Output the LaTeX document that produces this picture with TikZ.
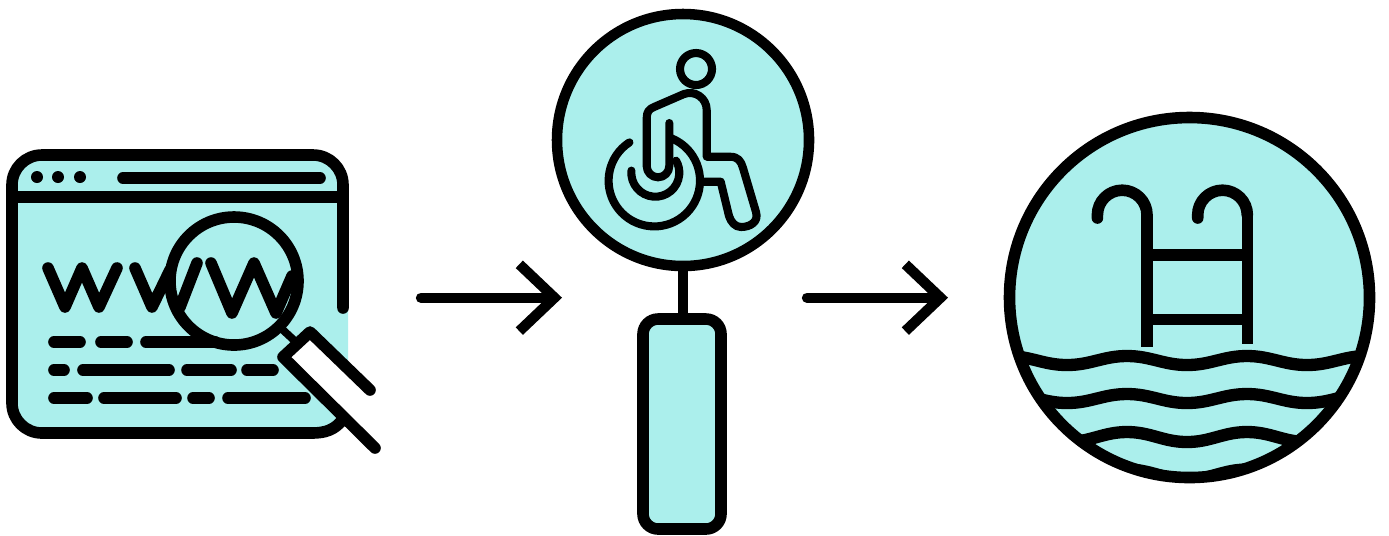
\documentclass[tikz,border=0pt]{standalone}
\usepackage{tikz}
\usetikzlibrary{arrows.meta}
\definecolor{pooltint}{HTML}{ABEFEC}
\tikzset{
  ink/.style={line width=3.3pt,line cap=round,line join=round},
  inkflat/.style={line width=3.3pt},
  chair/.style={line width=2.3pt,line cap=round,line join=round},
  flowarrow/.style={line width=2.95pt,line cap=round,-{Straight Barb[length=10pt,width=19pt,line cap=butt,line join=miter]}}
}
\begin{document}
\begin{tikzpicture}[x=0.01cm,y=-0.01cm]
  \useasboundingbox (0,0) rectangle (1389,535);
  % browser window
  \fill[pooltint,rounded corners=8.5pt] (12,155) rectangle (348,433);
  \fill[white] (310,332)--(283,357)--(375,448)--(400,448)--(400,420)--(370,390)--cycle;
  \draw[ink,rounded corners=8.5pt] (343,308)--(343,155)--(12,155)--(12,433)--(312,433);
  \draw[ink] (312,433) .. controls (325,433) and (335,430) .. (343,419);
  \draw[inkflat] (12,197)--(343,197);
  \foreach \dotx in {37,58,80} \fill (\dotx,177) circle[radius=6];
  \draw[ink] (123,178)--(320,178);
  % www
  \draw[ink] (48,268)--(65,307)--(82,268)--(99,307)--(117,268);
  \draw[ink] (135,268)--(152,307)--(170,270);
  \draw[ink] (180,307)--(197,263);
  \draw[ink] (211,263)--(232,313)--(254,263)--(276,313)--(292,276);
  % text rows
  \draw[ink] (54,342)--(80,342) (101,342)--(127,342) (146,342)--(215,342);
  \draw[ink] (54,370)--(64,370) (83,370)--(169,370) (187,370)--(231,370) (247,370)--(273,370);
  \draw[ink] (54,398)--(87,398) (104,398)--(176,398) (193,398)--(209,398) (228,398)--(305,398);
  % small lens
  \draw[inkflat] (234,281) circle[radius=64];
  \draw[line width=2.2pt] (283,330)--(297,343);
  \draw[ink] (370,390)--(310,332)--(283,357)--(375,448);
  % arrows
  \coordinate (arrowAstart) at (421,297.7);
  \coordinate (arrowAend) at (562,297.7);
  \coordinate (arrowBstart) at (807,297.7);
  \coordinate (arrowBend) at (948,297.7);
  \draw[flowarrow] (arrowAstart)--(arrowAend);
  \draw[flowarrow] (arrowBstart)--(arrowBend);
  % big lens
  \draw[line width=2.95pt] (683,271)--(683,316);
  \draw[line width=3pt,fill=pooltint] (683,140) circle[radius=126];
  \draw[inkflat,fill=pooltint,rounded corners=4.3pt] (643,319) rectangle (721,529);
  % wheelchair
  \draw[chair] (696,69) circle[radius=16];
  \draw[chair] (669.3,123)--(669.3,166) arc[start angle=0,end angle=180,radius=11.3]
    --(646.7,118) .. controls (646.7,112) and (649,109) .. (654,107)
    --(684,94) .. controls (695,90) and (706.7,98) .. (706.7,110)
    --(706.7,156.7)--(730,156.7) .. controls (738,156.7) and (741,161) .. (743,168)
    --(756,212) .. controls (759,222) and (750,227) .. (741,227)
    .. controls (735,227) and (731,222) .. (729,216)
    --(720.7,181.7)--(703,181.7);
  \draw[chair] (654.3,180.7) ++(-123:45.7) arc[start angle=-123,end angle=-428,radius=45.7];
  \draw[chair] (655.3,172.7) ++(-175:24) arc[start angle=-175,end angle=-390,radius=24];
  % pool
  \fill[pooltint] (1189.5,297.5) circle[radius=180];
  \begin{scope}
    \clip (1189.5,297.5) circle[radius=180];
    \foreach \wavey/\waved in {356/9,394/9,432/10,469.5/10}
      \draw[line width=3.5pt] (1007,\wavey) to[out=0,in=180] (1067,{\wavey+\waved})
        to[out=0,in=180] (1127,\wavey) to[out=0,in=180] (1187,{\wavey+\waved})
        to[out=0,in=180] (1247,\wavey) to[out=0,in=180] (1307,{\wavey+\waved})
        to[out=0,in=180] (1367,\wavey);
  \end{scope}
  \draw[inkflat] (1189.5,297.5) circle[radius=180];
  % ladder
  \draw[ink] (1097.4,218)--(1097.4,215) arc[start angle=180,end angle=360,radius=24.8];
  \draw[ink] (1197.7,218)--(1197.7,215) arc[start angle=180,end angle=360,radius=24.8];
  \draw[inkflat] (1147,215)--(1147,347) (1247.3,215)--(1247.3,344);
  \draw[inkflat] (1147,255)--(1247,255) (1147,319.3)--(1247,319.3);
\end{tikzpicture}
\end{document}
